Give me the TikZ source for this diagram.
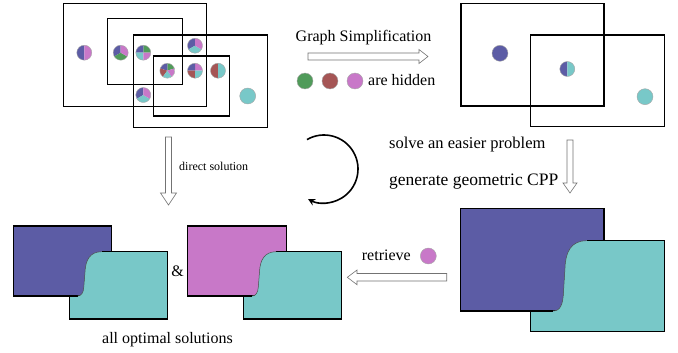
\documentclass[tikz,border=0pt]{standalone}
\usepackage{fontspec}
\setmainfont{Liberation Serif}
\usetikzlibrary{arrows.meta}
\definecolor{pblue}{RGB}{92,92,165}
\definecolor{pteal}{RGB}{120,200,200}
\definecolor{ppink}{RGB}{200,120,200}
\definecolor{pgreen}{RGB}{80,155,90}
\definecolor{pred}{RGB}{165,85,85}
\tikzset{
  box/.style={draw=black, line width=1.4pt},
  dotline/.style={draw=gray!70, line width=0.4pt},
  lbl/.style={font=\fontsize{16}{19}\selectfont, inner sep=0pt},
  hollow/.style={draw=black!55, fill=white, line width=0.6pt},
  sol/.style={draw=black, line width=1.2pt},
  curveedge/.style={draw=black!70, line width=0.5pt},
}
\newcommand\pslice[5]{\fill[#1] (#2,#3) -- ++(#4:7.5pt) arc[start angle=#4, end angle=#5, radius=7.5pt] -- cycle;}
\newcommand\prim[3]{\draw[dotline] (#1,#2) circle[radius=#3pt];}
\newcommand\fulldot[4]{\fill[#1] (#2,#3) circle[radius=#4pt]; \draw[dotline] (#2,#3) circle[radius=#4pt];}
\begin{document}
\begin{tikzpicture}[x=1pt,y=-1pt]
\useasboundingbox (0,0) rectangle (678,353);
% ---------- top-left graph ----------
\draw[box] (63.3,3.3) rectangle (206.7,106.7);
\draw[box] (107.7,18.3) rectangle (182.7,84.3);
\draw[box] (133.3,35) rectangle (267.3,127.3);
\draw[box] (153.3,56) rectangle (229.3,116);
% c1
\pslice{pblue}{84.3}{52.7}{90}{270}\pslice{ppink}{84.3}{52.7}{-90}{90}\prim{84.3}{52.7}{7.5}
% c2
\pslice{pblue}{120.7}{52.7}{90}{210}\pslice{pgreen}{120.7}{52.7}{210}{330}\pslice{ppink}{120.7}{52.7}{-30}{90}\prim{120.7}{52.7}{7.5}
% c3
\pslice{pgreen}{143.3}{52.7}{0}{90}\pslice{pblue}{143.3}{52.7}{90}{180}\pslice{pteal}{143.3}{52.7}{180}{270}\pslice{ppink}{143.3}{52.7}{270}{360}\prim{143.3}{52.7}{7.5}
% c4
\pslice{pblue}{195}{45.7}{90}{210}\pslice{pteal}{195}{45.7}{210}{330}\pslice{ppink}{195}{45.7}{-30}{90}\prim{195}{45.7}{7.5}
% c5
\pslice{pgreen}{167.3}{70.7}{18}{90}\pslice{pblue}{167.3}{70.7}{90}{162}\pslice{pred}{167.3}{70.7}{162}{234}\pslice{pteal}{167.3}{70.7}{234}{306}\pslice{ppink}{167.3}{70.7}{306}{378}\prim{167.3}{70.7}{7.5}
% c6
\pslice{ppink}{195}{70.7}{0}{90}\pslice{pblue}{195}{70.7}{90}{180}\pslice{pred}{195}{70.7}{180}{270}\pslice{pteal}{195}{70.7}{270}{360}\prim{195}{70.7}{7.5}
% c7
\pslice{pred}{218}{70.7}{90}{270}\pslice{pteal}{218}{70.7}{-90}{90}\prim{218}{70.7}{7.5}
% c8
\pslice{pblue}{143.3}{95}{90}{210}\pslice{pteal}{143.3}{95}{210}{330}\pslice{ppink}{143.3}{95}{-30}{90}\prim{143.3}{95}{7.5}
% c9
\fulldot{pteal}{247.7}{96}{8}
% ---------- graph simplification ----------
\node[lbl, anchor=base] (gs) at (363.5,41.7) {Graph Simplification};
\draw[hollow] (308,53) -- (419,53) -- (419,49.5) -- (428,56.5) -- (419,63.5) -- (419,60) -- (308,60) -- cycle;
\fulldot{pgreen}{305}{81}{8}
\fulldot{pred}{330}{81}{8}
\fulldot{ppink}{355}{81}{8}
\node[lbl, anchor=base west] (hid) at (368,85.5) {are hidden};
% ---------- top-right graph ----------
\draw[box] (461,3.3) rectangle (604,106);
\draw[box] (530.7,35) rectangle (664.3,126.7);
\fulldot{pblue}{500}{53.3}{8}
\pslice{pblue}{567.3}{69}{90}{270}\pslice{pteal}{567.3}{69}{-90}{90}\prim{567.3}{69}{7.5}
\fulldot{pteal}{645}{96.7}{8}
% ---------- middle ----------
\draw[hollow] (165.5,137) -- (171.5,137) -- (171.5,193) -- (176.5,193) -- (168.5,205) -- (160.5,193) -- (165.5,193) -- cycle;
\node[lbl, font=\fontsize{12}{14}\selectfont, anchor=base west] (ds) at (179,170) {direct solution};
\draw[line width=1.6pt, -{Stealth[length=7pt,width=7pt]}] (324,169) ++(120:34pt) arc[start angle=120, end angle=-118, radius=34pt];
\node[lbl, font=\fontsize{16.5}{19}\selectfont, anchor=base west] (se) at (389,148.5) {solve an easier problem};
\node[lbl, font=\fontsize{17.5}{20}\selectfont, anchor=base west] (gg) at (389,185) {generate geometric CPP};
\draw[hollow] (567,140) -- (573,140) -- (573,183) -- (577,183) -- (570,193) -- (563,183) -- (567,183) -- cycle;
% ---------- big CPP ----------
\fill[pblue] (460.7,208.3) rectangle (604,311);
\draw[sol] (460.7,208.3) rectangle (604,311);
\fill[pteal] (530.7,311) -- (530.7,331.7) -- (664.3,331.7) -- (664.3,240.7) -- (586.7,240.7) .. controls (571,240.7) and (565.5,252) .. (565,268) -- (563.5,292) .. controls (563,305) and (560,311) .. (553,311) -- cycle;
\draw[sol] (553,311) -- (530.7,311) -- (530.7,331.7) -- (664.3,331.7) -- (664.3,240.7) -- (586.7,240.7);
\draw[curveedge] (586.7,240.7) .. controls (571,240.7) and (565.5,252) .. (565,268) -- (563.5,292) .. controls (563,305) and (560,311) .. (553,311);
% ---------- retrieve ----------
\node[lbl, anchor=base west] (rt) at (361.7,260.5) {retrieve};
\fulldot{ppink}{428.3}{256}{8}
\draw[hollow] (446.7,273.5) -- (357,273.5) -- (357,270) -- (347.3,277.3) -- (357,284.7) -- (357,281) -- (446.7,281) -- cycle;
% ---------- optimal solutions ----------
\foreach \dx/\col in {0/pblue, 174.5/ppink}{
  \begin{scope}[xshift=\dx pt]
    \fill[\col] (13.3,226) rectangle (111.7,296);
    \draw[sol] (13.3,226) rectangle (111.7,296);
    \fill[pteal] (69.3,296) -- (69.3,319) -- (167.3,319) -- (167.3,251.7) -- (101.7,251.7) .. controls (90,251.7) and (85.5,260) .. (85,272) -- (83.8,287) .. controls (83.5,293) and (81,296) .. (77.7,296) -- cycle;
    \draw[sol] (77.7,296) -- (69.3,296) -- (69.3,319) -- (167.3,319) -- (167.3,251.7) -- (101.7,251.7);
    \draw[curveedge] (101.7,251.7) .. controls (90,251.7) and (85.5,260) .. (85,272) -- (83.8,287) .. controls (83.5,293) and (81,296) .. (77.7,296);
  \end{scope}
}
\node[lbl] (amp) at (177.7,271.7) {\&};
\node[lbl, anchor=base] (all) at (167.5,343.3) {all optimal solutions};
\end{tikzpicture}
\end{document}
